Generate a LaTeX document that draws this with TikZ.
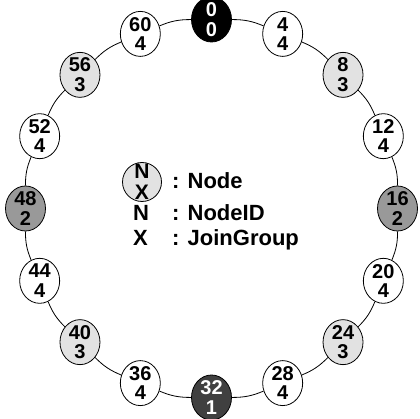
\documentclass[tikz,border=0pt]{standalone}
\usepackage{fontspec}
\setmainfont{Liberation Sans}
\usetikzlibrary{shapes.geometric}
\definecolor{lightg}{HTML}{E2E2E2}
\definecolor{midg}{HTML}{999999}
\definecolor{darkg}{HTML}{404040}
\begin{document}
\begin{tikzpicture}[x=1pt, y=-1pt,
  ringnode/.style={ellipse, draw, line width=0.8pt, minimum width=40pt, minimum height=45pt, inner sep=0pt},
  numtext/.style={align=center, inner sep=0pt, font=\bfseries\fontsize{20}{19.5}\selectfont},
  ringline/.style={line width=0.8pt},
  keytext/.style={anchor=base west, inner sep=0pt, font=\bfseries\fontsize{22}{24}\selectfont}]
\useasboundingbox (0,0) rectangle (420,419);

% ring members: id / join group / fill / text colour
\foreach \id/\grp/\fc/\tc in {0/0/black/white, 4/4/white/black, 8/3/lightg/black,
    12/4/white/black, 16/2/midg/black, 20/4/white/black, 24/3/lightg/black,
    28/4/white/black, 32/1/darkg/white, 36/4/white/black, 40/3/lightg/black,
    44/4/white/black, 48/2/midg/black, 52/4/white/black, 56/3/lightg/black,
    60/4/white/black}
  \node[ringnode, fill=\fc, label={[numtext, text=\tc]center:{\id\\\grp}}]
    (n\id) at ({211.5+186*sin(\id*5.625)}, {208.5-189*cos(\id*5.625)}) {};

% ring links between neighbours
\foreach \a/\b in {0/4, 4/8, 8/12, 12/16, 16/20, 20/24, 24/28, 28/32,
    32/36, 36/40, 40/44, 44/48, 48/52, 52/56, 56/60, 60/0}
  \draw[ringline] (n\a) to[bend left=11.25] (n\b);

% legend
\node[ringnode, fill=lightg, minimum width=39pt, minimum height=39pt,
  label={[numtext, font=\bfseries\fontsize{21}{21}\selectfont]center:{N\\X}}] (key) at (142,182) {};
\node[keytext] (keynode) at (172,189) {: Node};
\node[keytext] (keyN) at (133,221) {N};
\node[keytext] (keyNd) at (172,221) {: NodeID};
\node[keytext] (keyX) at (133,246) {X};
\node[keytext] (keyXd) at (172,246) {: JoinGroup};
\end{tikzpicture}
\end{document}
